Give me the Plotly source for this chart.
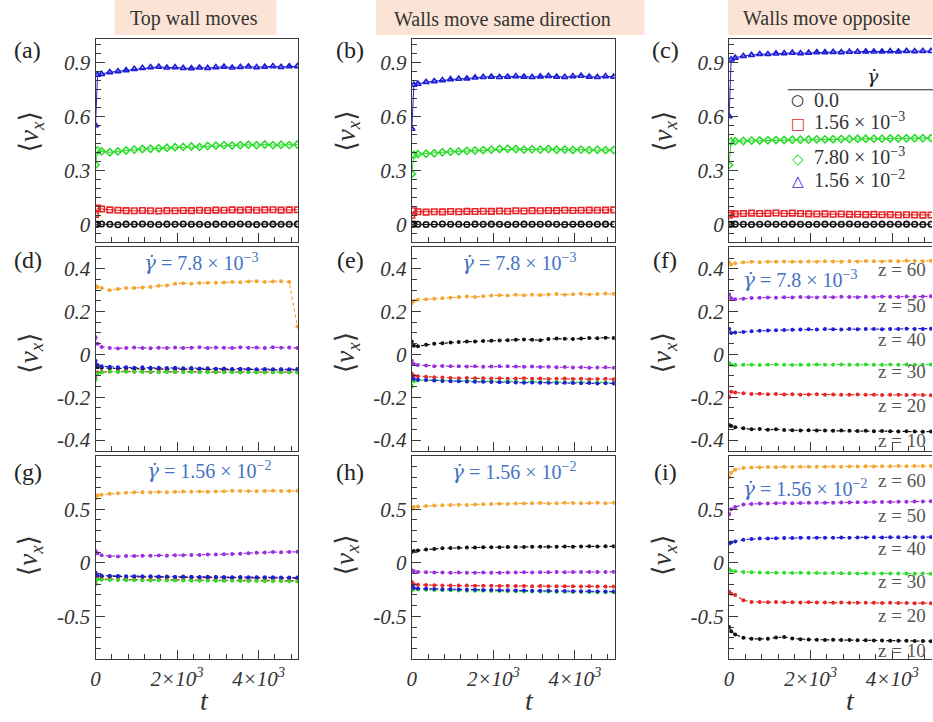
import plotly.graph_objects as go

W, H = 933, 722

# ---------------- data ----------------
T = [0, 50, 150, 350, 550, 750, 950, 1150, 1350, 1550, 1750, 1950, 2150, 2350,
     2550, 2750, 2950, 3150, 3350, 3550, 3750, 3950, 4150, 4350, 4550, 4750, 4950]

X_TICKVALS = [0, 2000, 4000]
X_TICKTEXT = ["0", "2×10<sup>3</sup>", "4×10<sup>3</sup>"]

HEADERS = ["Top wall moves", "Walls move same direction", "Walls move opposite"]
PANEL_LABELS = ["(a)", "(b)", "(c)", "(d)", "(e)", "(f)", "(g)", "(h)", "(i)"]

GAMMA_LEGEND = ["0.0", "1.56 × 10<sup>−3</sup>", "7.80 × 10<sup>−3</sup>", "1.56 × 10<sup>−2</sup>"]
Z_LABELS = ["z = 60", "z = 50", "z = 40", "z = 30", "z = 20", "z = 10"]
GDOT = '<span style="font-family:DejaVu Serif"><i>γ̇</i></span>'
RATE_ROW2 = GDOT + " = 7.8 × 10<sup>−3</sup>"
RATE_ROW3 = GDOT + " = 1.56 × 10<sup>−2</sup>"

# Row 1: <v_x> vs t for four shear rates
a_g0 = [0.0, 0.0, 0.002, 0.0, -0.002, 0.001, 0.0, 0.002, 0.0, -0.001, 0.001, 0.0, 0.002, 0.0,
        0.0, -0.001, 0.001, 0.0, 0.0, 0.002, 0.0, -0.001, 0.0, 0.001, 0.0, 0.0, 0.001]
a_g1 = [0.055, 0.09, 0.085, 0.08, 0.078, 0.076, 0.075, 0.077, 0.075, 0.074, 0.076, 0.075, 0.077, 0.076,
        0.078, 0.077, 0.079, 0.078, 0.08, 0.079, 0.08, 0.078, 0.08, 0.081, 0.079, 0.08, 0.081]
a_g2 = [0.33, 0.41, 0.405, 0.40, 0.405, 0.41, 0.415, 0.418, 0.42, 0.422, 0.425, 0.428, 0.43, 0.432,
        0.43, 0.435, 0.437, 0.44, 0.438, 0.44, 0.442, 0.44, 0.443, 0.44, 0.442, 0.44, 0.443]
a_g3 = [0.55, 0.83, 0.835, 0.845, 0.85, 0.855, 0.862, 0.868, 0.872, 0.875, 0.87, 0.872, 0.868, 0.866,
        0.87, 0.868, 0.872, 0.875, 0.87, 0.873, 0.876, 0.872, 0.875, 0.878, 0.874, 0.877, 0.878]

b_g0 = [0.0, 0.001, 0.0, -0.001, 0.0, 0.002, 0.0, 0.0, -0.001, 0.001, 0.0, 0.001, 0.0, -0.001,
        0.0, 0.001, 0.0, 0.0, 0.002, 0.0, -0.001, 0.0, 0.001, 0.0, 0.0, 0.001, 0.0]
b_g1 = [0.05, 0.075, 0.07, 0.068, 0.07, 0.069, 0.071, 0.07, 0.072, 0.071, 0.073, 0.072, 0.074, 0.073,
        0.075, 0.074, 0.076, 0.075, 0.077, 0.076, 0.078, 0.077, 0.078, 0.079, 0.078, 0.079, 0.08]
b_g2 = [0.28, 0.385, 0.39, 0.392, 0.395, 0.40, 0.403, 0.405, 0.408, 0.41, 0.412, 0.415, 0.418, 0.42,
        0.418, 0.415, 0.417, 0.415, 0.418, 0.414, 0.416, 0.413, 0.415, 0.412, 0.414, 0.412, 0.413]
b_g3 = [0.53, 0.775, 0.78, 0.79, 0.795, 0.80, 0.805, 0.808, 0.81, 0.815, 0.818, 0.82, 0.818, 0.82,
        0.822, 0.82, 0.818, 0.821, 0.823, 0.82, 0.818, 0.822, 0.825, 0.82, 0.818, 0.822, 0.82]

c_g0 = [0.0, 0.0, 0.001, 0.0, -0.001, 0.0, 0.002, 0.0, 0.0, 0.001, 0.0, -0.001, 0.0, 0.001,
        0.0, 0.0, 0.002, 0.0, -0.001, 0.0, 0.001, 0.0, 0.0, 0.001, 0.0, -0.001, 0.0]
c_g1 = [0.05, 0.06, 0.058, 0.06, 0.062, 0.06, 0.061, 0.063, 0.06, 0.062, 0.06, 0.058, 0.057, 0.058,
        0.056, 0.057, 0.055, 0.056, 0.054, 0.055, 0.053, 0.054, 0.052, 0.053, 0.052, 0.051, 0.052]
c_g2 = [0.33, 0.46, 0.462, 0.463, 0.465, 0.466, 0.467, 0.468, 0.468, 0.47, 0.47, 0.471, 0.472, 0.472,
        0.473, 0.474, 0.474, 0.475, 0.475, 0.476, 0.476, 0.477, 0.477, 0.478, 0.478, 0.478, 0.479]
c_g3 = [0.6, 0.915, 0.925, 0.935, 0.94, 0.945, 0.945, 0.948, 0.95, 0.952, 0.95, 0.953, 0.955, 0.955,
        0.957, 0.956, 0.958, 0.958, 0.96, 0.959, 0.96, 0.961, 0.96, 0.962, 0.961, 0.962, 0.962]

# Rows 2-3: layers z = 10 ... 60
d_z10 = [-0.05, -0.06, -0.062, -0.065, -0.066, -0.065, -0.067, -0.068, -0.066, -0.068, -0.069, -0.068, -0.07, -0.069,
         -0.07, -0.071, -0.07, -0.072, -0.071, -0.072, -0.07, -0.072, -0.073, -0.072, -0.071, -0.073, -0.072]
d_z20 = [-0.11, -0.085, -0.082, -0.08, -0.08, -0.079, -0.081, -0.08, -0.082, -0.081, -0.08, -0.082, -0.081, -0.08,
         -0.082, -0.081, -0.083, -0.082, -0.081, -0.083, -0.082, -0.083, -0.082, -0.084, -0.083, -0.082, -0.083]
d_z30 = [-0.12, -0.09, -0.085, -0.08, -0.082, -0.081, -0.08, -0.082, -0.081, -0.083, -0.082, -0.081, -0.083, -0.082,
         -0.084, -0.083, -0.082, -0.084, -0.083, -0.085, -0.084, -0.083, -0.085, -0.084, -0.083, -0.085, -0.084]
d_z40 = [-0.03, -0.05, -0.055, -0.058, -0.06, -0.06, -0.062, -0.06, -0.063, -0.062, -0.064, -0.063, -0.065, -0.064,
         -0.066, -0.065, -0.067, -0.066, -0.068, -0.067, -0.068, -0.069, -0.068, -0.07, -0.069, -0.07, -0.068]
d_z50 = [0.08, 0.05, 0.035, 0.03, 0.028, 0.03, 0.032, 0.03, 0.029, 0.031, 0.03, 0.032, 0.03, 0.031,
         0.033, 0.03, 0.032, 0.031, 0.03, 0.033, 0.031, 0.032, 0.03, 0.033, 0.031, 0.032, 0.03]
d_z60 = [0.32, 0.315, 0.31, 0.30, 0.305, 0.31, 0.31, 0.312, 0.315, 0.32, 0.322, 0.33, 0.332, 0.33,
         0.333, 0.335, 0.334, 0.336, 0.338, 0.337, 0.34, 0.342, 0.338, 0.34, 0.342, 0.338, 0.13]

e_z10 = [0.06, 0.04, 0.038, 0.045, 0.05, 0.052, 0.055, 0.058, 0.06, 0.06, 0.062, 0.064, 0.065, 0.066,
         0.068, 0.07, 0.068, 0.066, 0.072, 0.074, 0.073, 0.072, 0.074, 0.076, 0.075, 0.078, 0.076]
e_z20 = [-0.09, -0.1, -0.102, -0.105, -0.107, -0.108, -0.11, -0.111, -0.11, -0.112, -0.111, -0.113, -0.112, -0.114,
         -0.113, -0.112, -0.114, -0.113, -0.115, -0.114, -0.113, -0.115, -0.114, -0.116, -0.115, -0.114, -0.116]
e_z30 = [-0.15, -0.125, -0.122, -0.12, -0.121, -0.122, -0.123, -0.124, -0.125, -0.124, -0.126, -0.125, -0.127, -0.126,
         -0.128, -0.127, -0.128, -0.129, -0.128, -0.13, -0.129, -0.13, -0.131, -0.13, -0.132, -0.131, -0.132]
e_z40 = [-0.11, -0.115, -0.118, -0.12, -0.122, -0.124, -0.125, -0.126, -0.127, -0.128, -0.128, -0.129, -0.13, -0.13,
         -0.131, -0.132, -0.131, -0.133, -0.132, -0.134, -0.133, -0.134, -0.135, -0.134, -0.136, -0.135, -0.136]
e_z50 = [-0.03, -0.045, -0.05, -0.052, -0.055, -0.054, -0.056, -0.055, -0.057, -0.056, -0.058, -0.057, -0.056, -0.055,
         -0.057, -0.058, -0.057, -0.059, -0.058, -0.06, -0.059, -0.061, -0.06, -0.062, -0.061, -0.06, -0.062]
e_z60 = [0.24, 0.25, 0.255, 0.258, 0.26, 0.262, 0.265, 0.268, 0.27, 0.268, 0.272, 0.275, 0.276, 0.275,
         0.278, 0.276, 0.279, 0.277, 0.28, 0.282, 0.279, 0.281, 0.283, 0.28, 0.282, 0.284, 0.283]

f_z10 = [-0.33, -0.335, -0.34, -0.345, -0.35, -0.348, -0.352, -0.35, -0.353, -0.354, -0.355, -0.354, -0.356, -0.355,
         -0.357, -0.356, -0.357, -0.358, -0.357, -0.359, -0.358, -0.359, -0.36, -0.359, -0.36, -0.361, -0.36]
f_z20 = [-0.2, -0.175, -0.178, -0.182, -0.185, -0.184, -0.186, -0.185, -0.187, -0.186, -0.188, -0.187, -0.186, -0.188,
         -0.187, -0.189, -0.188, -0.187, -0.189, -0.188, -0.19, -0.189, -0.188, -0.19, -0.189, -0.19, -0.191]
f_z30 = [-0.04, -0.048, -0.05, -0.049, -0.048, -0.05, -0.049, -0.047, -0.048, -0.05, -0.049, -0.048, -0.047, -0.049,
         -0.048, -0.047, -0.049, -0.048, -0.047, -0.048, -0.049, -0.047, -0.048, -0.047, -0.049, -0.048, -0.047]
f_z40 = [0.12, 0.1, 0.102, 0.105, 0.108, 0.11, 0.112, 0.113, 0.114, 0.115, 0.116, 0.117, 0.116, 0.118,
         0.117, 0.116, 0.118, 0.117, 0.119, 0.118, 0.117, 0.119, 0.118, 0.12, 0.119, 0.118, 0.12]
f_z50 = [0.28, 0.262, 0.258, 0.26, 0.263, 0.265, 0.266, 0.265, 0.267, 0.266, 0.268, 0.267, 0.266, 0.268,
         0.267, 0.269, 0.268, 0.267, 0.269, 0.268, 0.27, 0.269, 0.268, 0.27, 0.269, 0.27, 0.271]
f_z60 = [0.43, 0.42, 0.425, 0.43, 0.432, 0.43, 0.433, 0.432, 0.434, 0.433, 0.432, 0.434, 0.433, 0.435,
         0.434, 0.433, 0.435, 0.434, 0.436, 0.435, 0.434, 0.436, 0.435, 0.437, 0.436, 0.435, 0.437]

g_z10 = [-0.11, -0.12, -0.125, -0.127, -0.128, -0.13, -0.131, -0.129, -0.133, -0.134, -0.132, -0.135, -0.136, -0.134,
         -0.137, -0.138, -0.136, -0.139, -0.14, -0.138, -0.141, -0.14, -0.142, -0.143, -0.141, -0.143, -0.144]
g_z20 = [-0.19, -0.15, -0.152, -0.154, -0.155, -0.157, -0.156, -0.157, -0.159, -0.158, -0.159, -0.161, -0.16, -0.16,
         -0.162, -0.161, -0.162, -0.164, -0.163, -0.163, -0.165, -0.164, -0.165, -0.167, -0.166, -0.166, -0.167]
g_z30 = [-0.2, -0.155, -0.158, -0.16, -0.161, -0.163, -0.162, -0.163, -0.165, -0.164, -0.165, -0.166, -0.166, -0.167,
         -0.167, -0.168, -0.167, -0.169, -0.168, -0.17, -0.17, -0.171, -0.17, -0.172, -0.171, -0.172, -0.173]
g_z40 = [-0.09, -0.115, -0.12, -0.122, -0.124, -0.126, -0.125, -0.127, -0.126, -0.128, -0.129, -0.13, -0.129, -0.131,
         -0.132, -0.131, -0.133, -0.132, -0.134, -0.133, -0.135, -0.134, -0.136, -0.135, -0.137, -0.137, -0.138]
g_z50 = [0.11, 0.09, 0.07, 0.062, 0.06, 0.063, 0.064, 0.066, 0.065, 0.068, 0.067, 0.07, 0.071, 0.073,
         0.074, 0.077, 0.078, 0.08, 0.083, 0.085, 0.09, 0.094, 0.097, 0.1, 0.099, 0.102, 0.103]
g_z60 = [0.6, 0.63, 0.635, 0.645, 0.65, 0.655, 0.658, 0.66, 0.657, 0.662, 0.66, 0.663, 0.665, 0.663,
         0.666, 0.664, 0.667, 0.669, 0.672, 0.671, 0.67, 0.668, 0.671, 0.672, 0.67, 0.671, 0.672]

h_z10 = [0.1, 0.11, 0.115, 0.125, 0.13, 0.135, 0.138, 0.14, 0.142, 0.143, 0.145, 0.146, 0.145, 0.147,
         0.148, 0.147, 0.149, 0.15, 0.149, 0.151, 0.152, 0.15, 0.153, 0.154, 0.152, 0.155, 0.154]
h_z20 = [-0.18, -0.2, -0.205, -0.208, -0.21, -0.211, -0.212, -0.213, -0.212, -0.214, -0.215, -0.214, -0.216, -0.215,
         -0.217, -0.216, -0.218, -0.217, -0.219, -0.218, -0.22, -0.219, -0.221, -0.22, -0.222, -0.221, -0.222]
h_z30 = [-0.26, -0.245, -0.25, -0.252, -0.254, -0.256, -0.257, -0.258, -0.26, -0.261, -0.262, -0.263, -0.264, -0.265,
         -0.266, -0.267, -0.268, -0.268, -0.269, -0.27, -0.271, -0.272, -0.272, -0.273, -0.274, -0.275, -0.275]
h_z40 = [-0.22, -0.235, -0.24, -0.242, -0.245, -0.247, -0.248, -0.25, -0.251, -0.252, -0.254, -0.255, -0.256, -0.257,
         -0.258, -0.259, -0.26, -0.261, -0.262, -0.263, -0.264, -0.265, -0.266, -0.266, -0.267, -0.268, -0.268]
h_z50 = [-0.07, -0.08, -0.085, -0.088, -0.09, -0.091, -0.092, -0.091, -0.093, -0.092, -0.091, -0.093, -0.092, -0.09,
         -0.091, -0.089, -0.09, -0.088, -0.089, -0.087, -0.088, -0.086, -0.087, -0.085, -0.086, -0.085, -0.084]
h_z60 = [0.5, 0.52, 0.525, 0.53, 0.535, 0.538, 0.54, 0.542, 0.54, 0.545, 0.548, 0.55, 0.552, 0.55,
         0.555, 0.553, 0.556, 0.558, 0.555, 0.557, 0.56, 0.558, 0.556, 0.558, 0.56, 0.557, 0.56]

i_z10 = [-0.6, -0.64, -0.67, -0.7, -0.71, -0.712, -0.71, -0.698, -0.694, -0.706, -0.714, -0.716, -0.718, -0.72,
         -0.719, -0.722, -0.721, -0.723, -0.724, -0.725, -0.726, -0.727, -0.728, -0.729, -0.73, -0.731, -0.732]
i_z20 = [-0.27, -0.29, -0.30, -0.35, -0.365, -0.367, -0.368, -0.367, -0.369, -0.368, -0.37, -0.369, -0.371, -0.37,
         -0.372, -0.371, -0.373, -0.372, -0.374, -0.373, -0.375, -0.374, -0.376, -0.375, -0.377, -0.376, -0.378]
i_z30 = [-0.06, -0.075, -0.08, -0.085, -0.088, -0.09, -0.092, -0.093, -0.094, -0.095, -0.094, -0.096, -0.095, -0.097,
         -0.096, -0.098, -0.097, -0.099, -0.098, -0.1, -0.099, -0.1, -0.101, -0.1, -0.102, -0.101, -0.102]
i_z40 = [0.18, 0.19, 0.2, 0.215, 0.222, 0.226, 0.228, 0.23, 0.232, 0.231, 0.233, 0.234, 0.233, 0.235,
         0.234, 0.236, 0.235, 0.237, 0.236, 0.238, 0.237, 0.238, 0.239, 0.238, 0.24, 0.239, 0.24]
i_z50 = [0.45, 0.5, 0.52, 0.545, 0.55, 0.553, 0.555, 0.556, 0.558, 0.557, 0.559, 0.56, 0.561, 0.56,
         0.562, 0.563, 0.564, 0.565, 0.566, 0.567, 0.568, 0.569, 0.57, 0.571, 0.572, 0.573, 0.574]
i_z60 = [0.8, 0.84, 0.87, 0.885, 0.89, 0.892, 0.895, 0.893, 0.896, 0.895, 0.897, 0.896, 0.898, 0.897,
         0.899, 0.898, 0.9, 0.899, 0.901, 0.9, 0.902, 0.901, 0.903, 0.902, 0.904, 0.903, 0.904]

ROW1 = [[a_g0, a_g1, a_g2, a_g3], [b_g0, b_g1, b_g2, b_g3], [c_g0, c_g1, c_g2, c_g3]]
ROW2 = [[d_z10, d_z20, d_z30, d_z40, d_z50, d_z60],
        [e_z10, e_z20, e_z30, e_z40, e_z50, e_z60],
        [f_z10, f_z20, f_z30, f_z40, f_z50, f_z60]]
ROW3 = [[g_z10, g_z20, g_z30, g_z40, g_z50, g_z60],
        [h_z10, h_z20, h_z30, h_z40, h_z50, h_z60],
        [i_z10, i_z20, i_z30, i_z40, i_z50, i_z60]]

# ---------------- styles ----------------
BLACK = "#111111"
RED = "#e8262a"
GREEN = "#2fdc2f"
BLUE = "#1f1fd6"
PURPLE = "#9b2fe0"
ORANGE = "#f6a531"
RATE_COLOR = "#4472c4"
HEADER_FILL = "#fbe4d5"
FRAME = "#3a3a3a"
SERIF = "Liberation Serif, DejaVu Serif, serif"

ROW1_COLORS = [BLACK, RED, GREEN, BLUE]
ROW1_SYMBOLS = ["circle-open", "square-open", "diamond-open", "triangle-up-open"]
Z_COLORS = [BLACK, RED, GREEN, BLUE, PURPLE, ORANGE]

COL_X = [(91, 295), (409, 613), (728, 932)]
ROW_Y = [(39, 243), (248, 452), (457, 661)]
Y_SPECS = [
    dict(range=[-0.1, 1.03], tickvals=[0, 0.3, 0.6, 0.9], ticktext=["0", "0.3", "0.6", "0.9"], minor=0.05),
    dict(range=[-0.45, 0.5], tickvals=[-0.4, -0.2, 0, 0.2, 0.4], ticktext=["-0.4", "-0.2", "0", "0.2", "0.4"], minor=0.05),
    dict(range=[-0.9, 1.0], tickvals=[-0.5, 0, 0.5], ticktext=["-0.5", "0", "0.5"], minor=0.1),
]

def px(x):
    return x / W

def py(y):
    return 1 - y / H

TICKFONT = dict(family=SERIF, size=21, color="#333333", style="italic")

fig = go.Figure()
layout = dict(width=W, height=H, margin=dict(l=0, r=0, t=0, b=0, pad=0), autosize=False,
              paper_bgcolor="white", plot_bgcolor="white", showlegend=False)
annotations = []
shapes = []

for r in range(3):
    for c in range(3):
        k = r * 3 + c + 1
        xs = "" if k == 1 else str(k)
        spec = Y_SPECS[r]
        layout["xaxis" + xs] = dict(
            domain=[px(COL_X[c][0]), px(COL_X[c][1])], anchor="y" + xs, range=[0, 4975],
            showline=True, linecolor=FRAME, linewidth=1.3, mirror=True,
            ticks="inside", ticklen=9, tickwidth=1.2, tickcolor=FRAME,
            tickmode="array", tickvals=X_TICKVALS, ticktext=X_TICKTEXT,
            showticklabels=(r == 2), tickfont=TICKFONT,
            minor=dict(tickmode="linear", tick0=0, dtick=400, ticks="inside", ticklen=5,
                       tickwidth=1, tickcolor=FRAME),
            showgrid=False, zeroline=False, fixedrange=True)
        layout["yaxis" + xs] = dict(
            domain=[py(ROW_Y[r][1]), py(ROW_Y[r][0])], anchor="x" + xs, range=spec["range"],
            showline=True, linecolor=FRAME, linewidth=1.3, mirror=(c != 2),
            ticks="inside", ticklen=9, tickwidth=1.2, tickcolor=FRAME,
            tickmode="array", tickvals=spec["tickvals"], ticktext=spec["ticktext"],
            tickfont=TICKFONT,
            minor=dict(tickmode="linear", tick0=0, dtick=spec["minor"], ticks="inside", ticklen=5,
                       tickwidth=1, tickcolor=FRAME),
            showgrid=False, zeroline=False, fixedrange=True)

        if r == 0:
            for s, ys in enumerate(ROW1[c]):
                fig.add_trace(go.Scatter(
                    x=T, y=ys, xaxis="x" + xs, yaxis="y" + xs, mode="lines+markers",
                    line=dict(color=ROW1_COLORS[s], width=1),
                    marker=dict(symbol=ROW1_SYMBOLS[s], size=5.5, color=ROW1_COLORS[s],
                                line=dict(width=1.6, color=ROW1_COLORS[s])),
                    cliponaxis=True))
        else:
            data = ROW2[c] if r == 1 else ROW3[c]
            for s, ys in enumerate(data):
                fig.add_trace(go.Scatter(
                    x=T, y=ys, xaxis="x" + xs, yaxis="y" + xs, mode="lines+markers",
                    line=dict(color=Z_COLORS[s], width=1.2, dash="dot"),
                    marker=dict(symbol="circle", size=4, color=Z_COLORS[s]),
                    cliponaxis=True))

        lab_x = [23, 347, 664][c]
        lab_y = [50, 261, 473][r]
        annotations.append(dict(text=PANEL_LABELS[k - 1], x=px(lab_x), y=py(lab_y), xref="paper",
                                yref="paper", showarrow=False, xanchor="center", yanchor="middle",
                                font=dict(family=SERIF, size=24, color="#222222")))
        annotations.append(dict(text="⟨<i>v</i><sub><i>x</i></sub>⟩", x=px(COL_X[c][0] - 65),
                                y=py([132, 354, 557][r]), xref="paper", yref="paper",
                                showarrow=False, textangle=-90, xanchor="center", yanchor="middle",
                                font=dict(family=SERIF, size=27, color="#333333")))

for c, tx in enumerate([201, 527, 850]):
    annotations.append(dict(text="<i>t</i>", x=px(tx), y=py(702), xref="paper", yref="paper",
                            showarrow=False, xanchor="center", yanchor="middle",
                            font=dict(family=SERIF, size=28, color="#333333")))

for (x0, x1, tc), text in zip([(110, 273, 190), (373, 643, 500), (727, 933, 826)], HEADERS):
    shapes.append(dict(type="rect", xref="paper", yref="paper", x0=px(x0), x1=px(x1),
                       y0=py(35), y1=py(0), fillcolor=HEADER_FILL, line=dict(width=0), layer="below"))
    annotations.append(dict(text=text, x=px(tc), y=py(19), xref="paper", yref="paper",
                            showarrow=False, xanchor="center", yanchor="middle",
                            font=dict(family=SERIF, size=20, color="#333333")))

# legend in panel (c)
shapes.append(dict(type="line", xref="paper", yref="paper", x0=px(787), x1=px(933),
                   y0=py(90), y1=py(90), line=dict(color="#222222", width=1.2)))
annotations.append(dict(text=GDOT, x=px(873), y=py(76), xref="paper", yref="paper",
                        showarrow=False, xanchor="center", yanchor="middle",
                        font=dict(family=SERIF, size=19, color="#222222")))
LEG_SYMBOLS = ["○", "□", "◇", "△"]
for s, (sym, txt, yy) in enumerate(zip(LEG_SYMBOLS, GAMMA_LEGEND, [100, 121, 156, 179])):
    annotations.append(dict(text="<b>" + sym + "</b>", x=px(797), y=py(yy + (3 if s else 0)),
                            xref="paper", yref="paper",
                            showarrow=False, xanchor="center", yanchor="middle",
                            font=dict(family="DejaVu Sans", size=15, color=ROW1_COLORS[s])))
    annotations.append(dict(text=txt, x=px(811), y=py(yy), xref="paper", yref="paper",
                            showarrow=False, xanchor="left", yanchor="middle",
                            font=dict(family=SERIF, size=20, color="#333333")))

for (xc, yc, anchor, txt) in [(197, 263, "center", RATE_ROW2), (517, 263, "center", RATE_ROW2),
                              (740, 280, "left", RATE_ROW2),
                              (205, 472, "center", RATE_ROW3), (512, 473, "center", RATE_ROW3),
                              (740, 490, "left", RATE_ROW3)]:
    annotations.append(dict(text=txt, x=px(xc), y=py(yc), xref="paper", yref="paper",
                            showarrow=False, xanchor=anchor, yanchor="middle",
                            font=dict(family=SERIF, size=20, color=RATE_COLOR)))

for base in ([270, 306, 340, 373, 407, 442], [482, 517, 550, 583, 617, 652]):
    for txt, yy in zip(Z_LABELS, base):
        annotations.append(dict(text=txt, x=px(928), y=py(yy), xref="paper", yref="paper",
                                showarrow=False, xanchor="right", yanchor="middle",
                                font=dict(family=SERIF, size=19, color="#555555")))

layout["annotations"] = annotations
layout["shapes"] = shapes
fig.update_layout(**layout)
fig.write_html("out.html", config={"displayModeBar": False},
               post_script="document.body.style.margin='0';document.body.style.overflow='hidden';")
